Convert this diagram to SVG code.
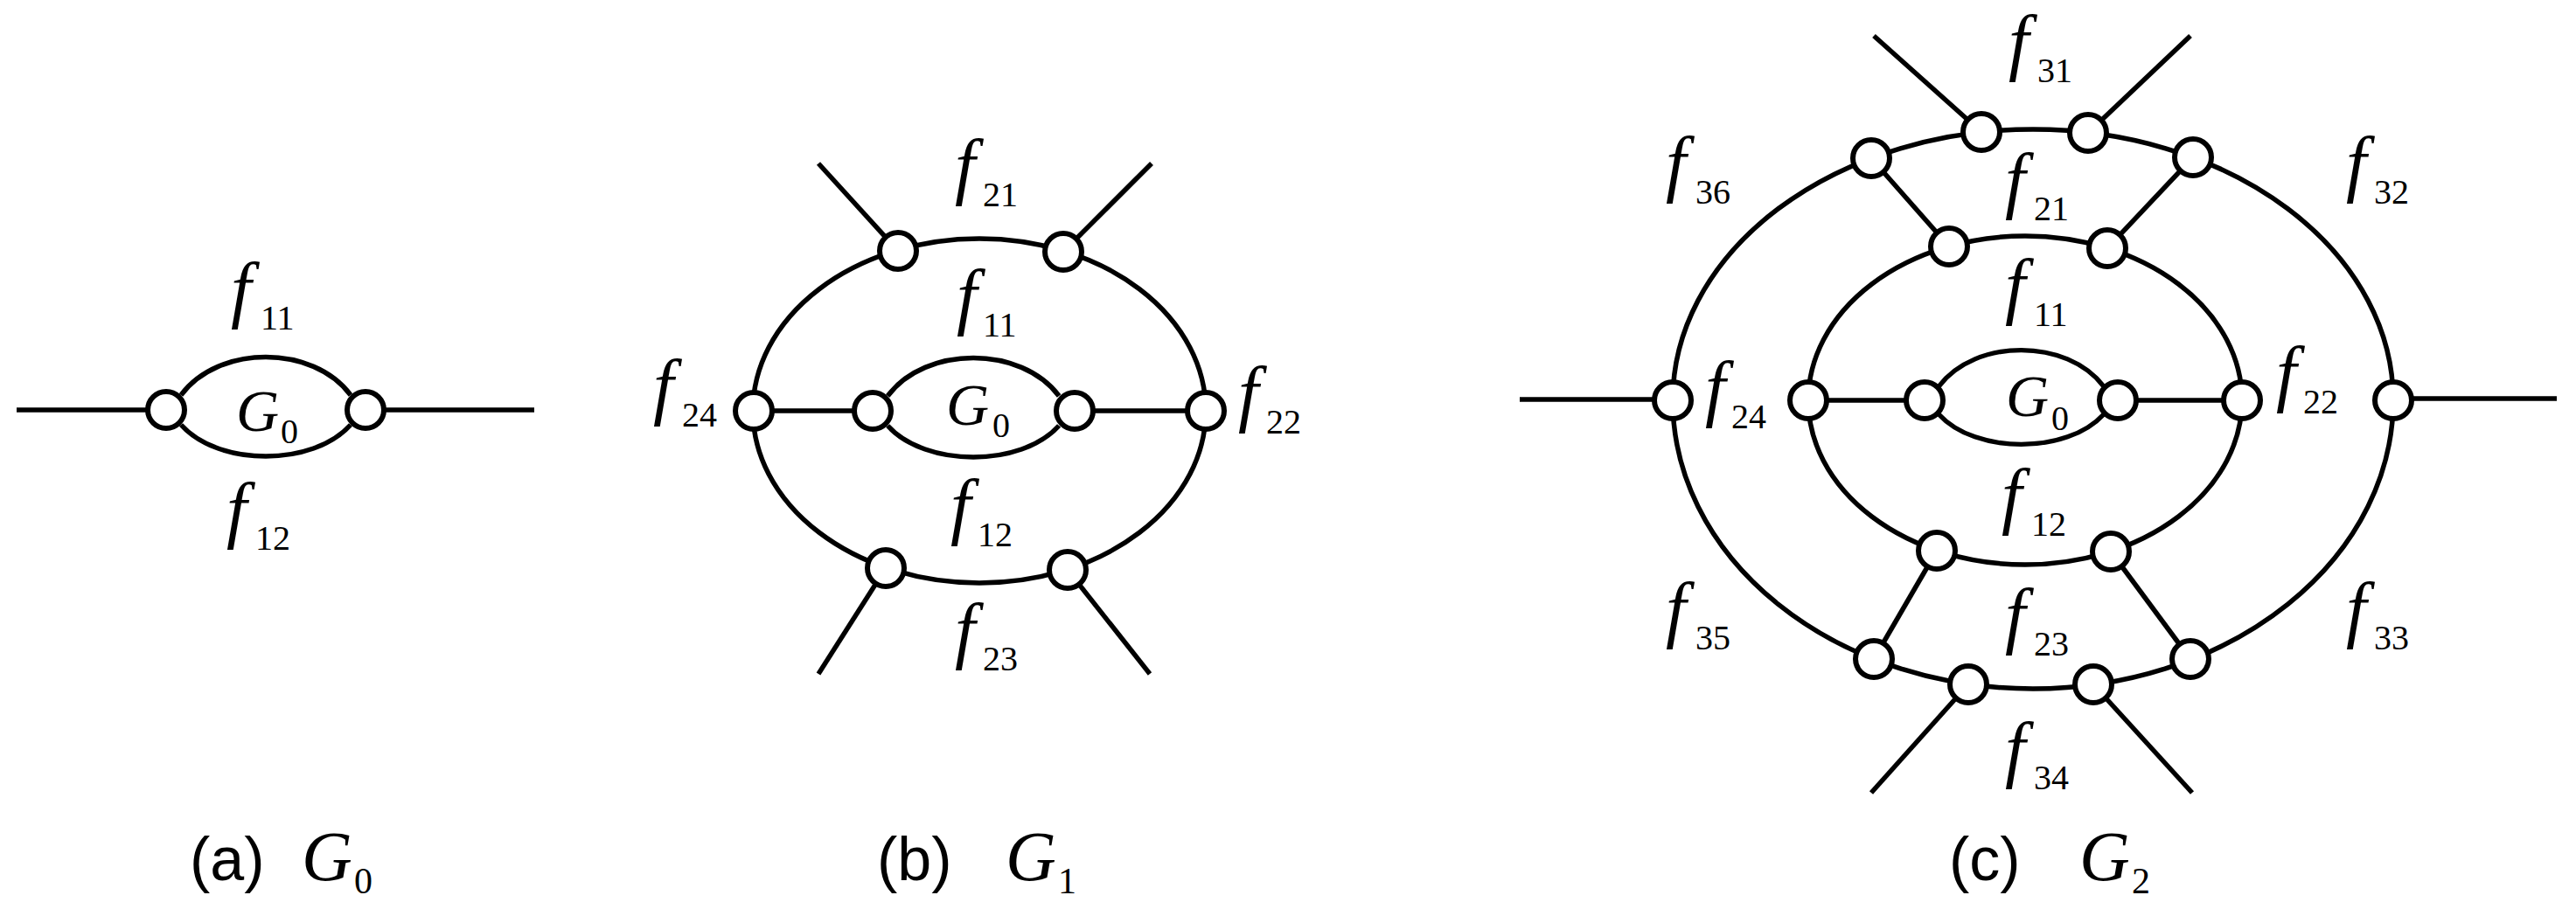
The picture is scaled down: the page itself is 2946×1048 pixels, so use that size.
<svg xmlns="http://www.w3.org/2000/svg" width="2946" height="1048" viewBox="0 0 2946 1048">
<style>
.e{fill:none;stroke:#000;stroke-width:5.5}
.n{fill:#fff;stroke:#000;stroke-width:6}
.f{font-family:"Liberation Serif",serif;font-style:italic;font-size:84px}
.s{font-family:"Liberation Serif",serif;font-size:40px}
.g{font-family:"Liberation Serif",serif;font-style:italic;font-size:68px}
.cap{font-family:"Liberation Sans",sans-serif;font-size:70px}
.cg{font-family:"Liberation Serif",serif;font-style:italic;font-size:80px}
.cs{font-family:"Liberation Serif",serif;font-size:42px}
</style>
<defs>
<path id="lens" d="M17 -17 C60 -75 168 -75 211 -17 M17 17 C60 65 168 65 211 17"/>
<circle id="nd" r="21"/>
</defs>
<g id="connectors" class="e">
<line x1="19" y1="469" x2="190" y2="469"/>
<line x1="418" y1="469" x2="611" y2="469"/>
<use href="#lens" transform="translate(190,469)"/>
<ellipse cx="1120" cy="470" rx="259" ry="197"/>
<line x1="862" y1="470" x2="998" y2="470"/>
<line x1="1229" y1="470" x2="1379" y2="470"/>
<use href="#lens" transform="translate(998,470) scale(1.01,1)"/>
<line x1="1027" y1="287" x2="936" y2="187"/>
<line x1="1216" y1="288" x2="1317" y2="187"/>
<line x1="1013" y1="650" x2="936" y2="771"/>
<line x1="1221" y1="652" x2="1315" y2="771"/>
<path d="M1913 458 A412 310 0 0 1 2737 458 A412 330 0 0 1 1913 458"/>
<ellipse cx="2316" cy="458" rx="248" ry="188"/>
<line x1="1738" y1="457" x2="1913" y2="457"/>
<line x1="2737" y1="456" x2="2924" y2="456"/>
<line x1="2068" y1="458" x2="2201" y2="458"/>
<line x1="2422" y1="458" x2="2564" y2="458"/>
<use href="#lens" transform="translate(2201,458) scale(0.97,0.95)"/>
<line x1="2266" y1="151" x2="2143" y2="41"/>
<line x1="2388" y1="152" x2="2505" y2="41"/>
<line x1="2140" y1="181" x2="2229" y2="282"/>
<line x1="2508" y1="180" x2="2410" y2="284"/>
<line x1="2215" y1="630" x2="2143" y2="754"/>
<line x1="2414" y1="631" x2="2505" y2="754"/>
<line x1="2251" y1="783" x2="2140" y2="907"/>
<line x1="2394" y1="783" x2="2507" y2="907"/>
</g>
<g id="nodes-a" class="n">
<use id="a1" href="#nd" x="190" y="469"/><use id="a2" href="#nd" x="418" y="469"/>
</g>
<g id="nodes-b" class="n">
<use id="b1" href="#nd" x="862" y="470"/><use id="b2" href="#nd" x="1379" y="470"/>
<use id="b3" href="#nd" x="998" y="470"/><use id="b4" href="#nd" x="1229" y="470"/>
<use id="b5" href="#nd" x="1027" y="287"/><use id="b6" href="#nd" x="1216" y="288"/>
<use id="b7" href="#nd" x="1013" y="650"/><use id="b8" href="#nd" x="1221" y="652"/>
</g>
<g id="nodes-c" class="n">
<use id="c1" href="#nd" x="1913" y="458"/><use id="c2" href="#nd" x="2737" y="458"/>
<use id="c3" href="#nd" x="2068" y="458"/><use id="c4" href="#nd" x="2564" y="458"/>
<use id="c5" href="#nd" x="2201" y="458"/><use id="c6" href="#nd" x="2422" y="458"/>
<use id="c7" href="#nd" x="2229" y="282"/><use id="c8" href="#nd" x="2410" y="284"/>
<use id="c9" href="#nd" x="2215" y="630"/><use id="c10" href="#nd" x="2414" y="631"/>
<use id="c11" href="#nd" x="2266" y="151"/><use id="c12" href="#nd" x="2388" y="152"/>
<use id="c13" href="#nd" x="2140" y="181"/><use id="c14" href="#nd" x="2508" y="180"/>
<use id="c15" href="#nd" x="2143" y="754"/><use id="c16" href="#nd" x="2505" y="754"/>
<use id="c17" href="#nd" x="2251" y="783"/><use id="c18" href="#nd" x="2394" y="783"/>
</g>
<g id="labels">
<text class="f" x="264" y="359">f</text><text class="s" x="298" y="377">11</text>
<text class="f" x="259" y="611">f</text><text class="s" x="292" y="629">12</text>
<text class="g" x="270" y="493">G</text><text class="s" x="321" y="507">0</text>

<text class="f" x="1092" y="218">f</text><text class="s" x="1124" y="236">21</text>
<text class="f" x="1094" y="367">f</text><text class="s" x="1124" y="385">11</text>
<text class="f" x="1087" y="607">f</text><text class="s" x="1118" y="625">12</text>
<text class="f" x="1092" y="749">f</text><text class="s" x="1124" y="767">23</text>
<text class="f" x="747" y="470">f</text><text class="s" x="780" y="488">24</text>
<text class="f" x="1416" y="478">f</text><text class="s" x="1448" y="496">22</text>
<text class="g" x="1082" y="486">G</text><text class="s" x="1135" y="500">0</text>

<text class="f" x="2297" y="76">f</text><text class="s" x="2330" y="94">31</text>
<text class="f" x="1905" y="215">f</text><text class="s" x="1939" y="233">36</text>
<text class="f" x="2683" y="215">f</text><text class="s" x="2715" y="233">32</text>
<text class="f" x="2293" y="234">f</text><text class="s" x="2326" y="252">21</text>
<text class="f" x="2293" y="355">f</text><text class="s" x="2326" y="373">11</text>
<text class="f" x="1950" y="472">f</text><text class="s" x="1980" y="490">24</text>
<text class="f" x="2603" y="455">f</text><text class="s" x="2634" y="473">22</text>
<text class="g" x="2294" y="476">G</text><text class="s" x="2346" y="492">0</text>
<text class="f" x="2289" y="595">f</text><text class="s" x="2323" y="613">12</text>
<text class="f" x="1905" y="725">f</text><text class="s" x="1939" y="743">35</text>
<text class="f" x="2683" y="725">f</text><text class="s" x="2715" y="743">33</text>
<text class="f" x="2293" y="732">f</text><text class="s" x="2326" y="750">23</text>
<text class="f" x="2293" y="885">f</text><text class="s" x="2326" y="903">34</text>

<text class="cap" x="217" y="1007">(a)</text><text class="cg" x="345" y="1007">G</text><text class="cs" x="405" y="1022">0</text>
<text class="cap" x="1003" y="1007">(b)</text><text class="cg" x="1150" y="1007">G</text><text class="cs" x="1210" y="1022">1</text>
<text class="cap" x="2229" y="1007">(c)</text><text class="cg" x="2378" y="1007">G</text><text class="cs" x="2438" y="1022">2</text>
</g>
</svg>
